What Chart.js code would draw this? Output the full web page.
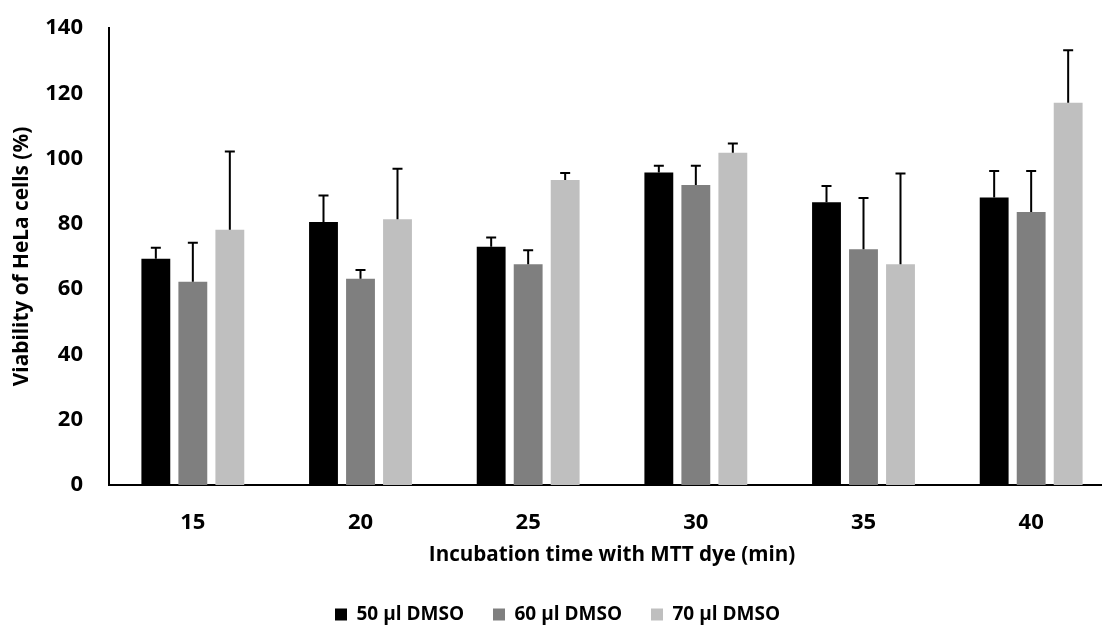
<!DOCTYPE html>
<html>
<head>
<meta charset="utf-8">
<script src="https://cdn.jsdelivr.net/npm/chart.js@4.4.1/dist/chart.umd.min.js"></script>
<style>
  html,body{margin:0;padding:0;background:#fff;overflow:hidden;}
  #wrap{width:1120px;height:634px;position:relative;}
</style>
</head>
<body>
<div id="wrap"><canvas id="viab"></canvas></div>
<script>
// incubation times (min) and viability (%) with upper SD per DMSO volume
const times=['15','20','25','30','35','40'];
const seriesNames=['50 µl DMSO','60 µl DMSO','70 µl DMSO'];
const dmso50=[69.3,80.6,73.0,95.7,86.6,88.1];
const dmso50Err=[3.4,8.1,2.8,2.1,5.0,8.1];
const dmso60=[62.3,63.2,67.6,91.9,72.2,83.6];
const dmso60Err=[11.9,2.7,4.3,5.9,15.7,12.6];
const dmso70=[78.2,81.4,93.4,101.8,67.6,117.1];
const dmso70Err=[24.0,15.5,2.2,2.8,27.8,16.1];
const yTicks=[0,20,40,60,80,100,120,140];

const FONT='"Open Sans", sans-serif';
const colors=['#000000','#7f7f7f','#bfbfbf'];
const errs=[dmso50Err,dmso60Err,dmso70Err];

// draws the upper error bar (stem + cap) above each bar
const errorBars={
  id:'errorBars',
  afterDatasetsDraw(chart){
    const {ctx,scales:{y}}=chart;
    ctx.save();
    ctx.strokeStyle='#000';
    ctx.lineWidth=2;
    chart.data.datasets.forEach((ds,i)=>{
      const meta=chart.getDatasetMeta(i);
      meta.data.forEach((bar,j)=>{
        const top=y.getPixelForValue(ds.data[j]+errs[i][j]);
        ctx.beginPath();
        ctx.moveTo(bar.x,bar.y);
        ctx.lineTo(bar.x,top);
        ctx.moveTo(bar.x-5,top);
        ctx.lineTo(bar.x+5,top);
        ctx.stroke();
      });
    });
    ctx.restore();
  }
};

new Chart(document.getElementById('viab'),{
  type:'bar',
  data:{
    labels:times,
    datasets:[dmso50,dmso60,dmso70].map((d,i)=>({
      label:seriesNames[i],
      data:d,
      backgroundColor:colors[i],
      borderWidth:0,
      categoryPercentage:0.662,
      barPercentage:0.78
    }))
  },
  options:{
    responsive:true,
    maintainAspectRatio:false,
    animation:false,
    layout:{padding:{top:28,right:5,bottom:0,left:0}},
    plugins:{
      tooltip:{enabled:false},
      legend:{
        position:'bottom',
        labels:{
          boxWidth:12,
          boxHeight:12,
          padding:29,
          color:'#000',
          font:{family:FONT,size:19,weight:'bold',lineHeight:1}
        }
      }
    },
    scales:{
      x:{
        grid:{display:false,drawTicks:false},
        border:{display:true,color:'#000',width:2},
        ticks:{color:'#000',padding:25,font:{family:FONT,size:22,weight:'bold'}},
        title:{display:true,text:'Incubation time with MTT dye (min)',color:'#000',
          padding:{top:0,bottom:9},font:{family:FONT,size:20.6,weight:'bold'}},
        afterFit(s){ s.height=91; }
      },
      y:{
        min:0,max:140,
        grid:{display:false,drawTicks:false},
        border:{display:true,color:'#000',width:2},
        afterBuildTicks(s){ s.ticks=yTicks.map(v=>({value:v})); },
        ticks:{color:'#000',padding:26,font:{family:FONT,size:22,weight:'bold'}},
        title:{display:true,text:'Viability of HeLa cells (%)',color:'#000',
          padding:{top:10,bottom:0},font:{family:FONT,size:20.8,weight:'bold'}},
        // keep only the half-label overhang, not the tick padding, above/below the axis
        afterFit(s){ s.width=109; s.paddingTop=13; s.paddingBottom=13; }
      }
    }
  },
  plugins:[errorBars]
});
</script>
</body>
</html>
